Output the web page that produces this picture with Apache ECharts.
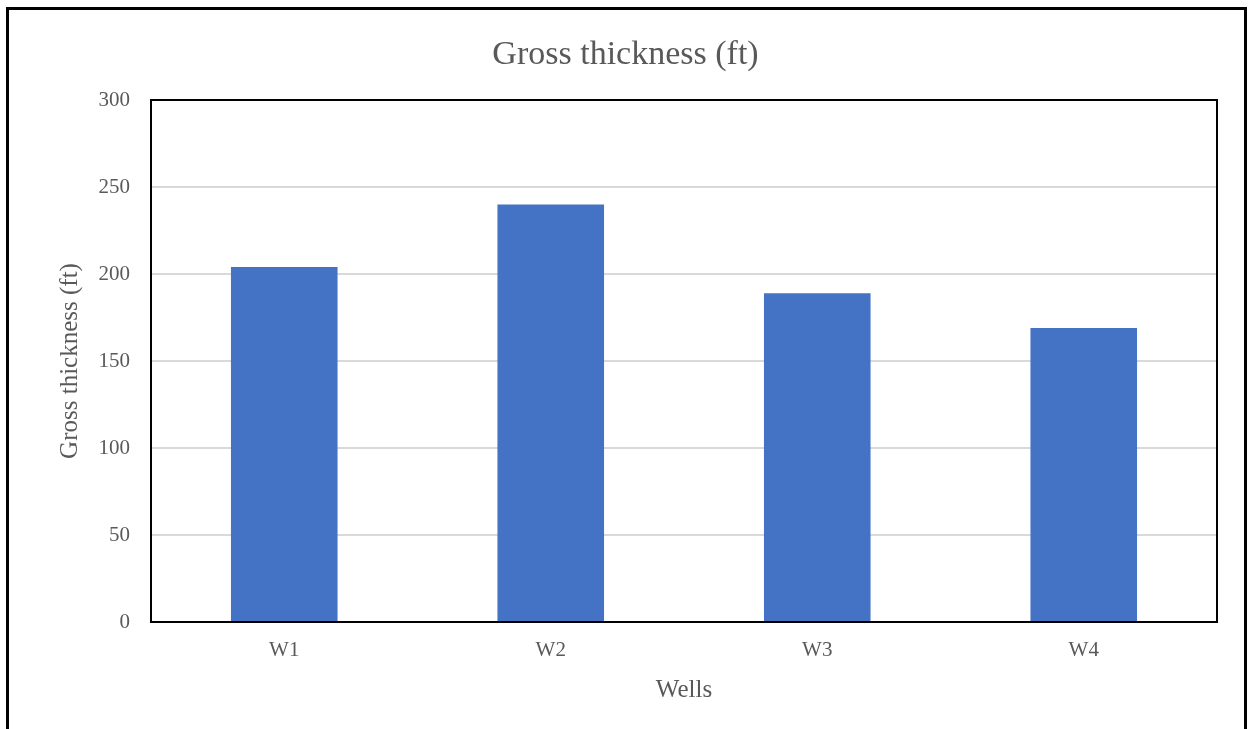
<!DOCTYPE html>
<html>
<head>
<meta charset="utf-8">
<script src="https://cdn.jsdelivr.net/npm/echarts@6/dist/echarts.min.js"></script>
<style>
html,body{margin:0;padding:0;background:#fff;}
#chart{width:1251px;height:729px;}
</style>
</head>
<body>
<div id="chart"></div>
<script>
const categories = ['W1', 'W2', 'W3', 'W4'];
const grossThickness = [204, 240, 189, 169];
const yTicks = [0, 50, 100, 150, 200, 250, 300];

const FONT = '"Liberation Serif", "Times New Roman", serif';
const TXT = '#595959';
const GRID = {left: 151, right: 34, top: 100, bottom: 107};
const W = 1251, H = 729;
const chart = echarts.init(document.getElementById('chart'), null, {renderer: 'canvas'});
chart.setOption({
  animation: false,
  backgroundColor: '#fff',
  title: {
    text: 'Gross thickness (ft)',
    left: 'center',
    top: 33,
    textStyle: {fontFamily: FONT, fontSize: 34, fontWeight: 'normal', color: TXT}
  },
  graphic: [{
    type: 'rect',
    z: 100,
    shape: {x: 7.5, y: 8.5, width: 1238, height: 760},
    style: {fill: 'none', stroke: '#000', lineWidth: 3},
    silent: true
  }, {
    type: 'rect',
    z: 100,
    shape: {x: GRID.left, y: GRID.top, width: W - GRID.left - GRID.right, height: H - GRID.top - GRID.bottom},
    style: {fill: 'none', stroke: '#000', lineWidth: 2},
    silent: true
  }],
  grid: GRID,
  xAxis: {
    type: 'category',
    data: categories,
    name: 'Wells',
    nameLocation: 'middle',
    nameGap: 56,
    nameTextStyle: {fontFamily: FONT, fontSize: 25, color: TXT},
    axisLine: {show: false},
    axisTick: {show: false},
    axisLabel: {fontFamily: FONT, fontSize: 21, color: TXT, margin: 18}
  },
  yAxis: {
    type: 'value',
    min: yTicks[0], max: yTicks[yTicks.length - 1], interval: 50,
    name: 'Gross thickness (ft)',
    nameLocation: 'middle',
    nameGap: 68,
    nameTextStyle: {fontFamily: FONT, fontSize: 25, color: TXT},
    axisLine: {show: false},
    axisTick: {show: false},
    axisLabel: {fontFamily: FONT, fontSize: 21, color: TXT, margin: 21},
    splitLine: {lineStyle: {color: '#d9d9d9', width: 2}}
  },
  series: [{
    type: 'bar',
    data: grossThickness,
    barWidth: '40%',
    itemStyle: {color: '#4472C4'}
  }]
});
</script>
</body>
</html>
